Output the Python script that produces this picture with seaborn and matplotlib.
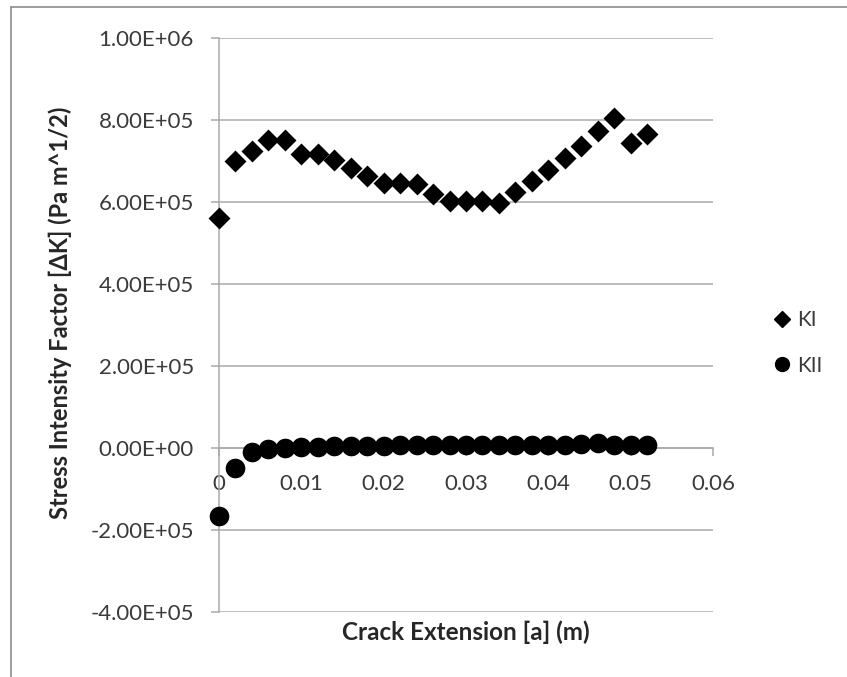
import numpy as np
import pandas as pd
import seaborn as sns
import matplotlib.pyplot as plt
from matplotlib.lines import Line2D
from matplotlib.ticker import FuncFormatter

# crack extension (m)
crack_a = [0.000, 0.002, 0.004, 0.006, 0.008, 0.010, 0.012, 0.014, 0.016,
           0.018, 0.020, 0.022, 0.024, 0.026, 0.028, 0.030, 0.032, 0.034,
           0.036, 0.038, 0.040, 0.042, 0.044, 0.046, 0.048, 0.050, 0.052]

# mode I stress intensity factor
ki = [5.61e5, 6.99e5, 7.25e5, 7.52e5, 7.52e5, 7.17e5, 7.17e5, 7.02e5, 6.83e5,
      6.64e5, 6.47e5, 6.47e5, 6.43e5, 6.20e5, 6.02e5, 6.02e5, 6.02e5, 5.98e5,
      6.24e5, 6.52e5, 6.79e5, 7.07e5, 7.36e5, 7.72e5, 8.04e5, 7.45e5, 7.65e5]

# mode II stress intensity factor
kii = [-1.67e5, -4.95e4, -1.05e4, -2.0e3, 1.0e3, 2.0e3, 3.0e3, 4.0e3, 5.0e3,
       5.0e3, 6.0e3, 7.0e3, 7.0e3, 7.0e3, 7.0e3, 7.0e3, 8.0e3, 8.0e3,
       8.0e3, 8.0e3, 8.0e3, 8.0e3, 9.0e3, 1.2e4, 8.0e3, 8.0e3, 8.0e3]

x_ticks = [0, 0.01, 0.02, 0.03, 0.04, 0.05, 0.06]
x_tick_labels = ['0', '0.01', '0.02', '0.03', '0.04', '0.05', '0.06']
y_ticks = [-4e5, -2e5, 0, 2e5, 4e5, 6e5, 8e5, 1e6]

df = pd.DataFrame({'a': crack_a, 'KI': ki, 'KII': kii})

sns.set_theme(style='white')
plt.rcParams['font.family'] = ['Lato', 'DejaVu Sans']

grid_col = '#a9a9a9'
tick_col = '#3a3a3a'

fig = plt.figure(figsize=(8.47, 6.77), dpi=100)
ax = fig.add_axes([0.2586, 0.0960, 0.5832, 0.8479])

sns.scatterplot(data=df, x='a', y='KI', marker='D', s=125, color='black',
                linewidth=0, label='KI', ax=ax, zorder=3, clip_on=False)
sns.scatterplot(data=df, x='a', y='KII', marker='o', s=200, color='black',
                linewidth=0, label='KII', ax=ax, zorder=3, clip_on=False)

ax.set_xlim(0, 0.06)
ax.set_ylim(-4e5, 1e6)
ax.set_xticks(x_ticks)
ax.set_xticklabels(x_tick_labels)
ax.set_yticks(y_ticks)
ax.yaxis.set_major_formatter(FuncFormatter(lambda v, p: f'{v:.2E}'))

ax.grid(axis='y', color=grid_col, linewidth=1.1)
ax.set_axisbelow(True)

for side in ['top', 'right']:
    ax.spines[side].set_visible(False)
ax.spines['left'].set_color(grid_col)
ax.spines['left'].set_linewidth(1.1)
ax.spines['bottom'].set_position(('data', 0))
ax.spines['bottom'].set_color(grid_col)
ax.spines['bottom'].set_linewidth(1.1)

ax.tick_params(axis='y', left=True, length=6, width=1.1, color=grid_col,
               labelsize=16, labelcolor=tick_col, pad=12)
ax.tick_params(axis='x', bottom=True, length=6, width=1.1, color=grid_col,
               labelsize=16, labelcolor=tick_col, pad=13)

ax.set_xlabel('')
ax.set_ylabel('Stress Intensity Factor [ΔK] (Pa m^1/2)', fontsize=17,
              fontweight='bold', color='#262626')
ax.yaxis.set_label_coords(-0.298, 0.521)
fig.text(466 / 847, 1 - 632 / 677, 'Crack Extension [a] (m)', fontsize=17.5,
         fontweight='bold', color='#262626', ha='center', va='center')

ax.legend_.remove()
handles = [Line2D([], [], marker='D', color='black', linestyle='', markersize=8),
           Line2D([], [], marker='o', color='black', linestyle='', markersize=10)]
fig.legend(handles, ['KI', 'KII'], loc='center left',
           bbox_to_anchor=(774 / 847, 1 - 343 / 677), frameon=False,
           fontsize=15, labelcolor=tick_col, handlelength=0.8,
           handletextpad=0.3, labelspacing=1.2, borderpad=0, borderaxespad=0)

# outer frame of the pasted chart (cut off at right and bottom)
fig.add_artist(Line2D([11 / 847, 1], [1 - 7 / 677, 1 - 7 / 677],
                      color='#8c8c8c', linewidth=1.2, transform=fig.transFigure))
fig.add_artist(Line2D([11 / 847, 11 / 847], [0, 1 - 7 / 677],
                      color='#8c8c8c', linewidth=1.2, transform=fig.transFigure))

fig.savefig('out.png', dpi=100)
